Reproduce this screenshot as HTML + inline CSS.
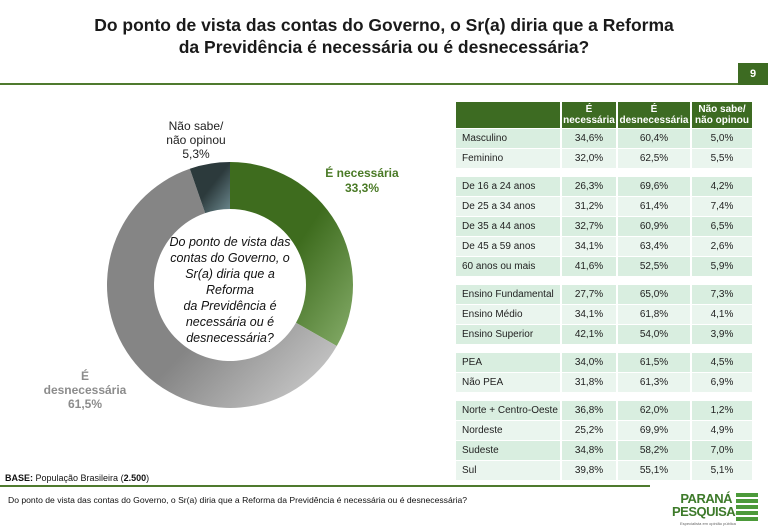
<!DOCTYPE html>
<html><head><meta charset="utf-8"><style>
body{margin:0;width:768px;height:530px;background:#fff;font-family:"Liberation Sans",Arial,sans-serif;position:relative;overflow:hidden}
.abs{position:absolute}
#title{left:0;width:768px;top:14px;text-align:center;font-size:17.5px;font-weight:bold;color:#1a1a1a;line-height:22px}
table{border-collapse:separate;border-spacing:2px 1px;font-size:10px;color:#222}
td{height:19px;padding:0;text-align:center}
td.l{text-align:left;padding-left:6px}
th{background:#3d6b22;color:#fff;font-size:10px;font-weight:bold;line-height:11px;height:26px;padding:0}
tr.a td{background:#d9eee0}
tr.b td{background:#eaf5ee}
tr.g td{height:7px;background:#fff}
</style></head><body>
<div id="title" class="abs">Do ponto de vista das contas do Governo, o Sr(a) diria que a Reforma<br>da Previdência é necessária ou é desnecessária?</div>
<div class="abs" style="left:0;top:83px;width:738px;height:2px;background:#4f7a2e"></div>
<div class="abs" style="left:738px;top:63px;width:30px;height:22px;background:#3d6b22;color:#fff;font-weight:bold;font-size:11px;line-height:22px;text-align:center">9</div>

<svg class="abs" style="left:0;top:0" width="450" height="460">
<defs>
<linearGradient id="gg" x1="0" y1="0" x2="1" y2="1"><stop offset="0.5" stop-color="#3e6c1e"/><stop offset="1" stop-color="#86ad6a"/></linearGradient>
<linearGradient id="gr" x1="0" y1="0" x2="1" y2="1"><stop offset="0.55" stop-color="#858585"/><stop offset="1" stop-color="#d4d4d4"/></linearGradient>
<linearGradient id="gd" x1="0" y1="0" x2="1" y2="1"><stop offset="0.5" stop-color="#2c3a3c"/><stop offset="1" stop-color="#6d8a90"/></linearGradient>
</defs>
<g id="slices"></g>
<text x="230" y="246" text-anchor="middle" font-size="12.5" font-style="italic" fill="#111">
<tspan x="230">Do ponto de vista das</tspan><tspan x="230" dy="16">contas do Governo, o</tspan><tspan x="230" dy="16">Sr(a) diria que a</tspan><tspan x="230" dy="16">Reforma</tspan><tspan x="230" dy="16">da Previdência é</tspan><tspan x="230" dy="16">necessária ou é</tspan><tspan x="230" dy="16">desnecessária?</tspan></text>
<text x="362" y="177" text-anchor="middle" font-size="12" font-weight="bold" fill="#4a7a26"><tspan x="362">É necessária</tspan><tspan x="362" dy="15">33,3%</tspan></text>
<text x="196" y="130" text-anchor="middle" font-size="12" fill="#222"><tspan x="196">Não sabe/</tspan><tspan x="196" dy="14">não opinou</tspan><tspan x="196" dy="14">5,3%</tspan></text>
<text x="85" y="380" text-anchor="middle" font-size="12" font-weight="bold" fill="#8c8c8c"><tspan x="85">É</tspan><tspan x="85" dy="14">desnecessária</tspan><tspan x="85" dy="14">61,5%</tspan></text>
</svg>

<div class="abs" style="left:5px;top:473px;font-size:9px;color:#111"><b>BASE:</b> População Brasileira (<b>2.500</b>)</div>
<div class="abs" style="left:0;top:485px;width:650px;height:2px;background:#4f7a2e"></div>
<div class="abs" style="left:8px;top:495px;font-size:8.6px;color:#111">Do ponto de vista das contas do Governo, o Sr(a) diria que a Reforma da Previdência é necessária ou é desnecessária?</div>
<div class="abs" style="left:672px;top:492px;width:90px;height:36px">
<div style="position:absolute;left:0;top:0;width:60px;text-align:right;font-size:13px;font-weight:bold;color:#3d7a2a;line-height:13px;letter-spacing:-0.5px">PARANÁ<br>PESQUISAS</div>
<div style="position:absolute;left:64px;top:1px;width:22px;height:30px;background:repeating-linear-gradient(#4c9a3a 0 4px,#fff 4px 6px)"></div>
<div style="position:absolute;left:8px;top:29px;font-size:4px;color:#666">Especialista em opinião pública</div>
</div>

<table class="abs" style="left:454px;top:101px">
<colgroup><col style="width:104px"><col style="width:54px"><col style="width:72px"><col style="width:60px"></colgroup>
<tbody id="tb"><tr><th></th><th>É<br>necessária</th><th>É<br>desnecessária</th><th>Não sabe/<br>não opinou</th></tr></tbody>
</table>

<script>
const categories=["É necessária","É desnecessária","Não sabe/não opinou"];
const shares=[33.3,61.5,5.3];
const fills=["url(#gg)","url(#gr)","url(#gd)"];
const cx=230,cy=285,R=123,r=76;
const tot=shares.reduce((a,b)=>a+b,0);
const g=document.getElementById('slices');
let a0=0;
function pt(a,rad){return [cx+rad*Math.sin(a),cy-rad*Math.cos(a)];}
shares.forEach((v,i)=>{
 const a1=a0+v/tot*2*Math.PI;
 const lg=(a1-a0)>Math.PI?1:0;
 const [x0,y0]=pt(a0,R),[x1,y1]=pt(a1,R),[x2,y2]=pt(a1,r),[x3,y3]=pt(a0,r);
 const p=document.createElementNS('http://www.w3.org/2000/svg','path');
 p.setAttribute('d',`M${x0},${y0}A${R},${R} 0 ${lg} 1 ${x1},${y1}L${x2},${y2}A${r},${r} 0 ${lg} 0 ${x3},${y3}Z`);
 p.setAttribute('fill',fills[i]);
 
 
 g.appendChild(p);a0=a1;
});
const rowLabels=["Masculino","Feminino",null,"De 16 a 24 anos","De 25 a 34 anos","De 35 a 44 anos","De 45 a 59 anos","60 anos ou mais",null,"Ensino Fundamental","Ensino Médio","Ensino Superior",null,"PEA","Não PEA",null,"Norte + Centro-Oeste","Nordeste","Sudeste","Sul"];
const necessaria=["34,6%","32,0%",null,"26,3%","31,2%","32,7%","34,1%","41,6%",null,"27,7%","34,1%","42,1%",null,"34,0%","31,8%",null,"36,8%","25,2%","34,8%","39,8%"];
const desnecessaria=["60,4%","62,5%",null,"69,6%","61,4%","60,9%","63,4%","52,5%",null,"65,0%","61,8%","54,0%",null,"61,5%","61,3%",null,"62,0%","69,9%","58,2%","55,1%"];
const naoSabe=["5,0%","5,5%",null,"4,2%","7,4%","6,5%","2,6%","5,9%",null,"7,3%","4,1%","3,9%",null,"4,5%","6,9%",null,"1,2%","4,9%","7,0%","5,1%"];
const tb=document.getElementById('tb');
let k=0;
rowLabels.forEach((l,i)=>{
 const tr=document.createElement('tr');
 if(l===null){tr.className='g';tr.innerHTML='<td colspan="4"></td>';tb.appendChild(tr);k=0;return;}
 tr.className=(k++%2===0)?'a':'b';
 
 
 tr.innerHTML=`<td class="l">${l}</td><td>${necessaria[i]}</td><td>${desnecessaria[i]}</td><td>${naoSabe[i]}</td>`;
 tb.appendChild(tr);
});
</script>
</body></html>
